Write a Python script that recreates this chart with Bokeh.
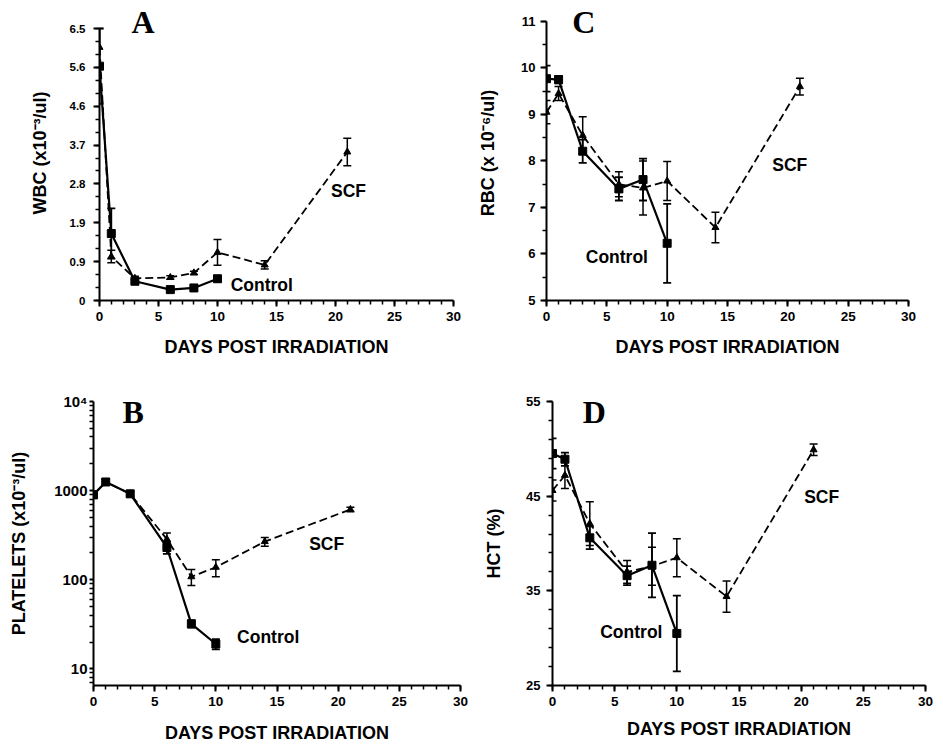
from bokeh.plotting import figure
from bokeh.models import (Range1d, FixedTicker, CustomJSTickFormatter, Whisker,
                          TeeHead, ColumnDataSource, Label)
from bokeh.layouts import column, row
from bokeh.embed import file_html
from bokeh.resources import INLINE

# ---------------- data ----------------
days_control = [0, 1, 3, 6, 8, 10]
days_scf = [0, 1, 3, 6, 8, 10, 14, 21]

# A: WBC (x10^-3/ul)
wbc_control = [5.6, 1.6, 0.46, 0.26, 0.30, 0.52]
wbc_control_err = [0.9, 0.6, 0.05, 0.04, 0.04, 0.06]
wbc_scf = [6.05, 1.05, 0.53, 0.55, 0.66, 1.15, 0.85, 3.55]
wbc_scf_err = [0.45, 0.15, 0.05, 0.04, 0.04, 0.31, 0.10, 0.33]
wbc_tick_labels = ["0", "0.9", "1.9", "2.8", "3.7", "4.6", "5.6", "6.5"]

# B: Platelets (x10^-3/ul)
plt_control = [900, 1250, 920, 230, 32, 19]
plt_control_err = [80, 100, 60, 35, 3, 2.5]
plt_scf = [900, 1250, 920, 285, 108, 138, 268, 614]
plt_scf_err = [80, 100, 60, 50, 22, 30, 30, 35]
plt_ticks = [10, 100, 1000, 10000]
plt_tick_labels = ["10", "100", "1000", "10\u2074"]

# C: RBC (x10^-6/ul)
rbc_control = [9.77, 9.75, 8.21, 7.40, 7.60, 6.23]
rbc_control_err = [0.28, 0.08, 0.25, 0.25, 0.45, 0.85]
rbc_scf = [9.05, 9.45, 8.55, 7.50, 7.42, 7.57, 6.57, 9.60]
rbc_scf_err = [0.25, 0.15, 0.40, 0.27, 0.58, 0.42, 0.33, 0.18]
rbc_ticks = [5, 6, 7, 8, 9, 10, 11]

# D: HCT (%)
hct_control = [49.5, 48.9, 40.6, 36.6, 37.7, 30.5]
hct_control_err = [1.6, 0.7, 1.2, 1.0, 3.4, 4.0]
hct_scf = [45.6, 47.2, 42.1, 37.0, 37.6, 38.5, 34.4, 49.9]
hct_scf_err = [1.1, 1.4, 2.3, 1.2, 2.0, 2.0, 1.65, 0.6]
hct_ticks = [25, 35, 45, 55]

x_ticks = [0, 5, 10, 15, 20, 25, 30]
x_minor_ticks = list(range(0, 31))

SANS = "Liberation Sans"
SERIF = "Liberation Serif"


def err_source(xs, vals, errs):
    return ColumnDataSource(dict(
        x=xs,
        upper=[v + e for v, e in zip(vals, errs)],
        lower=[v - e for v, e in zip(vals, errs)],
    ))


def make_panel(width, height, borders, y_range, y_bounds, y_log, yticks, yminor,
               yformatter, ylabel, ytick_font, ytick_out, ytick_standoff,
               ylabel_standoff, xlabel_standoff, letter, letter_xy, ctrl, ctrl_err,
               scf, scf_err, scf_xy, ctrl_xy):
    l, r, t, b = borders
    p = figure(width=width, height=height,
               x_range=Range1d(0, 30), y_range=Range1d(*y_range),
               y_axis_type="log" if y_log else "linear",
               output_backend="svg", toolbar_location=None,
               min_border_left=l, min_border_right=r,
               min_border_top=t, min_border_bottom=b)
    p.outline_line_color = None
    p.grid.visible = False

    # x axis
    xa = p.xaxis[0]
    xa.ticker = FixedTicker(ticks=x_ticks, minor_ticks=x_minor_ticks)
    xa.axis_label = "DAYS POST IRRADIATION"
    xa.axis_label_text_font = SANS
    xa.axis_label_text_font_style = "bold"
    xa.axis_label_text_font_size = "18px"
    xa.axis_label_standoff = xlabel_standoff
    xa.major_label_text_font = SANS
    xa.major_label_text_font_style = "bold"
    xa.major_label_text_font_size = "13.5px"
    xa.major_label_standoff = 5

    # y axis
    ya = p.yaxis[0]
    ya.ticker = FixedTicker(ticks=yticks, minor_ticks=yminor)
    if y_bounds is not None:
        ya.bounds = y_bounds
    if yformatter is not None:
        ya.formatter = yformatter
    ya.axis_label = ylabel
    ya.axis_label_text_font = SANS
    ya.axis_label_text_font_style = "bold"
    ya.axis_label_text_font_size = "18px"
    ya.axis_label_standoff = ylabel_standoff
    ya.major_label_text_font = SANS
    ya.major_label_text_font_style = "bold"
    ya.major_label_text_font_size = ytick_font
    ya.major_label_standoff = ytick_standoff

    for ax in (xa, ya):
        ax.axis_line_width = 2
        ax.axis_line_color = "black"
        ax.major_tick_line_width = 2
        ax.minor_tick_line_width = 1.5
        ax.major_tick_in = 0
        ax.minor_tick_in = 0
        ax.minor_tick_out = 4
        ax.major_label_text_color = "black"
        ax.axis_label_text_color = "black"
    xa.major_tick_out = 6
    ya.major_tick_out = ytick_out

    # SCF: dashed line with triangles
    p.line(days_scf, scf, line_width=1.8, line_color="black", line_dash="8 4")
    p.scatter(days_scf, scf, marker="triangle", size=7, color="black")
    p.add_layout(Whisker(source=err_source(days_scf, scf, scf_err),
                         base="x", upper="upper", lower="lower",
                         line_width=1.5, line_color="black",
                         upper_head=TeeHead(size=8, line_width=1.5),
                         lower_head=TeeHead(size=8, line_width=1.5)))

    # Control: solid line with squares
    p.line(days_control, ctrl, line_width=2.2, line_color="black")
    p.scatter(days_control, ctrl, marker="square", size=8, color="black")
    p.add_layout(Whisker(source=err_source(days_control, ctrl, ctrl_err),
                         base="x", upper="upper", lower="lower",
                         line_width=1.8, line_color="black",
                         upper_head=TeeHead(size=8, line_width=1.8),
                         lower_head=TeeHead(size=8, line_width=1.8)))

    p.add_layout(Label(x=letter_xy[0], y=letter_xy[1], text=letter,
                       text_font=SERIF, text_font_style="bold",
                       text_font_size="32px", text_align="center",
                       text_baseline="middle", text_color="black"))
    for txt, (tx, ty) in (("SCF", scf_xy), ("Control", ctrl_xy)):
        p.add_layout(Label(x=tx, y=ty, text=txt, text_font=SANS,
                           text_font_style="bold", text_font_size="17.5px",
                           text_align="center", text_baseline="middle",
                           text_color="black"))
    return p


wbc_ticks = [i * 6.5 / 7 for i in range(8)]
wbc_minor = [i * 6.5 / 21 for i in range(22)]
wbc_fmt = CustomJSTickFormatter(args=dict(labels=wbc_tick_labels),
                                code="return labels[Math.round(tick * 7 / 6.5)];")
pA = make_panel(468, 374, (99, 15, 5, 73), (0, 7.05), (0, 6.5), False, wbc_ticks,
                wbc_minor, wbc_fmt, "WBC (x10\u207b\u00b3/ul)", "11.5px", 6, 8, 17, 13,
                "A", (3.69, 6.65), wbc_control, wbc_control_err, wbc_scf, wbc_scf_err,
                (21.1, 2.62), (13.75, 0.36))

rbc_minor = [5 + 0.5 * i for i in range(13)]
pC = make_panel(455, 374, (78, 15, 5, 74), (5, 11.344), (5, 11), False, rbc_ticks,
                rbc_minor, None, "RBC (x 10\u207b\u2076/ul)", "13px", 6, 5, 20, 13,
                "C", (3.09, 10.99), rbc_control, rbc_control_err, rbc_scf, rbc_scf_err,
                (20.16, 7.91), (5.83, 5.94))

plt_minor = [m * d for d in (1, 10, 100, 1000) for m in range(2, 10) if 6.5 <= m * d <= 10000]
plt_fmt = CustomJSTickFormatter(args=dict(labels=plt_tick_labels),
                                code="return labels[Math.round(Math.log10(tick)) - 1];")
pB = make_panel(475, 372, (93, 15, 27, 61), (6.5, 10000), None, True, plt_ticks,
                plt_minor, plt_fmt, "PLATELETS (x10\u207b\u00b3/ul)", "15px", 4, 2, 22, 14,
                "B", (3.25, 7530), plt_control, plt_control_err, plt_scf, plt_scf_err,
                (19.06, 252), (14.28, 22.8))

hct_minor = list(range(25, 56, 2))
pD = make_panel(459, 372, (77, 9, 22, 57), (25, 55), None, False, hct_ticks,
                hct_minor, None, "HCT (%)", "13px", 6, 6, 19, 10,
                "D", (3.36, 53.9), hct_control, hct_control_err, hct_scf, hct_scf_err,
                (21.65, 44.9), (6.34, 30.7))

layout = column(row(pA, pC), row(pB, pD))
open("out.html", "w").write(file_html(layout, INLINE))
